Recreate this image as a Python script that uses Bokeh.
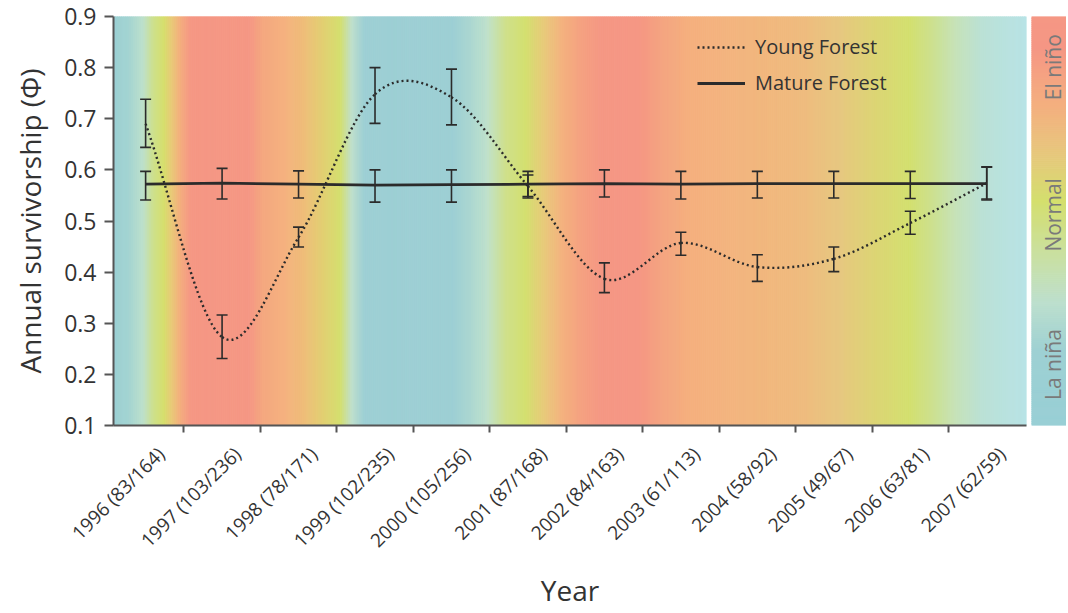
import numpy as np
from math import pi
from bokeh.plotting import figure
from bokeh.models import Range1d, FixedTicker, ColumnDataSource, Legend, LegendItem
from bokeh.layouts import row
from bokeh.embed import file_html
from bokeh.resources import INLINE
from bokeh.core.properties import value

# ---------------- data ----------------
years = [1996, 1997, 1998, 1999, 2000, 2001, 2002, 2003, 2004, 2005, 2006, 2007]
tick_labels = ["1996 (83/164)", "1997 (103/236)", "1998 (78/171)", "1999 (102/235)",
               "2000 (105/256)", "2001 (87/168)", "2002 (84/163)", "2003 (61/113)",
               "2004 (58/92)", "2005 (49/67)", "2006 (63/81)", "2007 (62/59)"]

young_phi = [0.690, 0.273, 0.468, 0.748, 0.742, 0.568, 0.387, 0.457, 0.410, 0.426, 0.496, 0.574]
young_lo  = [0.644, 0.231, 0.449, 0.691, 0.688, 0.548, 0.360, 0.433, 0.382, 0.401, 0.474, 0.543]
young_hi  = [0.738, 0.316, 0.488, 0.800, 0.797, 0.590, 0.418, 0.478, 0.434, 0.449, 0.519, 0.606]

mature_phi = [0.572, 0.574, 0.572, 0.570, 0.571, 0.572, 0.573, 0.572, 0.573, 0.573, 0.573, 0.573]
mature_lo  = [0.541, 0.543, 0.545, 0.537, 0.537, 0.545, 0.547, 0.543, 0.545, 0.545, 0.544, 0.541]
mature_hi  = [0.597, 0.603, 0.598, 0.600, 0.600, 0.597, 0.600, 0.597, 0.597, 0.597, 0.597, 0.605]

y_ticks = [0.1, 0.2, 0.3, 0.4, 0.5, 0.6, 0.7, 0.8, 0.9]

# ENSO background: (year, colour) stops
enso_years = [1995.58, 1995.78, 1995.97, 1996.10, 1996.24, 1996.35, 1996.46, 1996.59,
              1997.37, 1997.53, 1997.83, 1998.09, 1998.32, 1998.55, 1998.70, 1998.86,
              2000.03, 2000.25, 2000.47, 2000.71, 2000.97, 2001.22, 2001.45, 2001.72,
              2001.97, 2002.47, 2002.80, 2003.13, 2004.60, 2005.10, 2005.55, 2006.00,
              2006.27, 2006.60, 2006.95, 2007.52]
enso_colors = ["#9bcfd4", "#a3d4d2", "#bde0cc", "#cde08e", "#d5df6c", "#e9c877", "#f4ad7e", "#f59784",
               "#f59784", "#f4a77f", "#f5b27f", "#eebf7a", "#e2cf72", "#d4df6e", "#bfdfcc", "#9dcfd4",
               "#9dcfd4", "#abd7d1", "#c0e1cc", "#cfe08c", "#d3e06f", "#e8c97a", "#f4b27f", "#f5a080",
               "#f59784", "#f59784", "#f4a680", "#f5b07f", "#efbb7e", "#e6c880", "#dcd574", "#d3e06f",
               "#cde08c", "#c6e2b8", "#bae1d6", "#b8e3e6"]

# colour-bar stops (0 = La niña, 1 = El niño)
bar_pos = [0.0, 0.18, 0.30, 0.40, 0.55, 0.66, 0.78, 0.92, 1.0]
bar_colors = ["#99cfd5", "#9dd0d3", "#bcdfcd", "#c8e0a8", "#d4df6e", "#e6c87c", "#f4b07f", "#f59784", "#f59784"]
bar_labels = ["El niño", "Normal", "La niña"]
bar_label_pos = [0.876, 0.515, 0.149]

FONT = "Open Sans"
TXT = "#333333"
INK = "#2b2b2b"


def hex2rgb(h):
    h = h.lstrip("#")
    return [int(h[i:i + 2], 16) for i in (0, 2, 4)]


def interp_colors(pos, stops, cols):
    rgb = np.array([hex2rgb(c) for c in cols], dtype=float)
    out = []
    for p_ in pos:
        r = np.interp(p_, stops, rgb[:, 0])
        g = np.interp(p_, stops, rgb[:, 1])
        b = np.interp(p_, stops, rgb[:, 2])
        out.append("#%02x%02x%02x" % (int(round(r)), int(round(g)), int(round(b))))
    return out


x = np.arange(len(years), dtype=float)
x0 = years[0]
XL, XR = -0.42, 11.52
H = 612
BB = 186

p = figure(width=1030, height=H, x_range=Range1d(XL, XR), y_range=Range1d(0.1, 0.9),
           output_backend="svg", toolbar_location=None,
           min_border_left=113, min_border_right=4, min_border_top=16, min_border_bottom=BB)
p.outline_line_color = None
p.grid.visible = False
p.background_fill_color = "white"

# background gradient
edges = np.linspace(XL, XR, 460)
mids = (edges[:-1] + edges[1:]) / 2
bg_cols = interp_colors(mids + x0, enso_years, enso_colors)
p.quad(left=edges[:-1], right=edges[1:], bottom=0.1, top=0.9,
       fill_color=bg_cols, line_color=bg_cols, line_width=1)

# error bars (vertical segments + caps)
for lo, hi in ((young_lo, young_hi), (mature_lo, mature_hi)):
    p.segment(x0=x, y0=lo, x1=x, y1=hi, line_color=INK, line_width=1.6)
    p.scatter(x=np.concatenate([x, x]), y=np.concatenate([lo, hi]), marker="dash",
              size=11, line_color=INK, line_width=1.6)

# mature forest line
r_m = p.line(x, mature_phi, line_color=INK, line_width=2.8)

# young forest: smooth curve (Catmull-Rom as Bezier segments)
yp = np.array(young_phi)
m = np.zeros_like(yp)
m[1:-1] = (yp[2:] - yp[:-2]) / 2
m[0] = yp[1] - yp[0]
m[-1] = yp[-1] - yp[-2]
r_y = p.bezier(x0=x[:-1], y0=yp[:-1], x1=x[1:], y1=yp[1:],
               cx0=x[:-1] + 1 / 3, cy0=yp[:-1] + m[:-1] / 3,
               cx1=x[1:] - 1 / 3, cy1=yp[1:] - m[1:] / 3,
               line_color=INK, line_width=2.4, line_dash="2 3")

# legend
leg = Legend(items=[LegendItem(label="Young Forest", renderers=[r_y], index=0),
                    LegendItem(label="Mature Forest", renderers=[r_m], index=0)],
             location=(584, 329), border_line_color=None, background_fill_alpha=0,
             glyph_width=48, glyph_height=24, label_height=24, spacing=9,
             label_standoff=10, padding=0, margin=0,
             label_text_font=FONT, label_text_font_size="20px", label_text_color=TXT)
p.add_layout(leg)

# axes
ya = p.yaxis[0]
ya.ticker = FixedTicker(ticks=y_ticks)
ya.axis_label = "Annual survivorship (Φ)"
xa = p.xaxis[0]
lab_x = x + 0.2
xa.ticker = FixedTicker(ticks=list(lab_x), minor_ticks=list(x[:-1] + 0.5))
xa.major_label_overrides = {float(v): lab for v, lab in zip(lab_x, tick_labels)}
xa.major_label_orientation = pi / 4
xa.axis_label = "Year"
xa.major_tick_out = 0
xa.major_tick_in = 0
xa.minor_tick_out = 7
xa.minor_tick_in = 0
ya.minor_tick_out = 0
ya.minor_tick_in = 0
ya.major_tick_out = 9
ya.major_tick_in = 0
for ax in (xa, ya):
    ax.axis_line_color = "#555555"
    ax.axis_line_width = 2
    ax.major_tick_line_color = "#555555"
    ax.major_tick_line_width = 2
    ax.minor_tick_line_color = "#555555"
    ax.minor_tick_line_width = 2
    ax.major_label_text_font = FONT
    ax.major_label_text_color = TXT
    ax.axis_label_text_font = FONT
    ax.axis_label_text_font_style = "normal"
    ax.axis_label_text_color = TXT
    ax.axis_label_text_font_size = "28px"
ya.major_label_text_font_size = "23px"
xa.major_label_text_font_size = "19px"
ya.axis_label_standoff = 12
xa.axis_label_standoff = 6
ya.major_label_standoff = 8
xa.major_label_standoff = 18

# colour bar figure
p2 = figure(width=36, height=H, x_range=Range1d(0, 1), y_range=Range1d(0, 1),
            output_backend="svg", toolbar_location=None, x_axis_type=None, y_axis_type=None,
            min_border_left=1, min_border_right=0, min_border_top=16, min_border_bottom=BB)
p2.outline_line_color = None
p2.grid.visible = False
bedges = np.linspace(0, 1, 206)
bmids = (bedges[:-1] + bedges[1:]) / 2
bcols = interp_colors(bmids, bar_pos, bar_colors)
p2.quad(left=0, right=1, bottom=bedges[:-1], top=bedges[1:], fill_color=bcols, line_color=bcols, line_width=1)
p2.text(x=[0.6] * 3, y=bar_label_pos, text=bar_labels, angle=pi / 2,
        text_align="center", text_baseline="middle", text_color="#7a7a7a",
        text_font=value(FONT), text_font_size="21px")

layout = row(p, p2, spacing=0)
open("out.html", "w").write(file_html(layout, INLINE))
